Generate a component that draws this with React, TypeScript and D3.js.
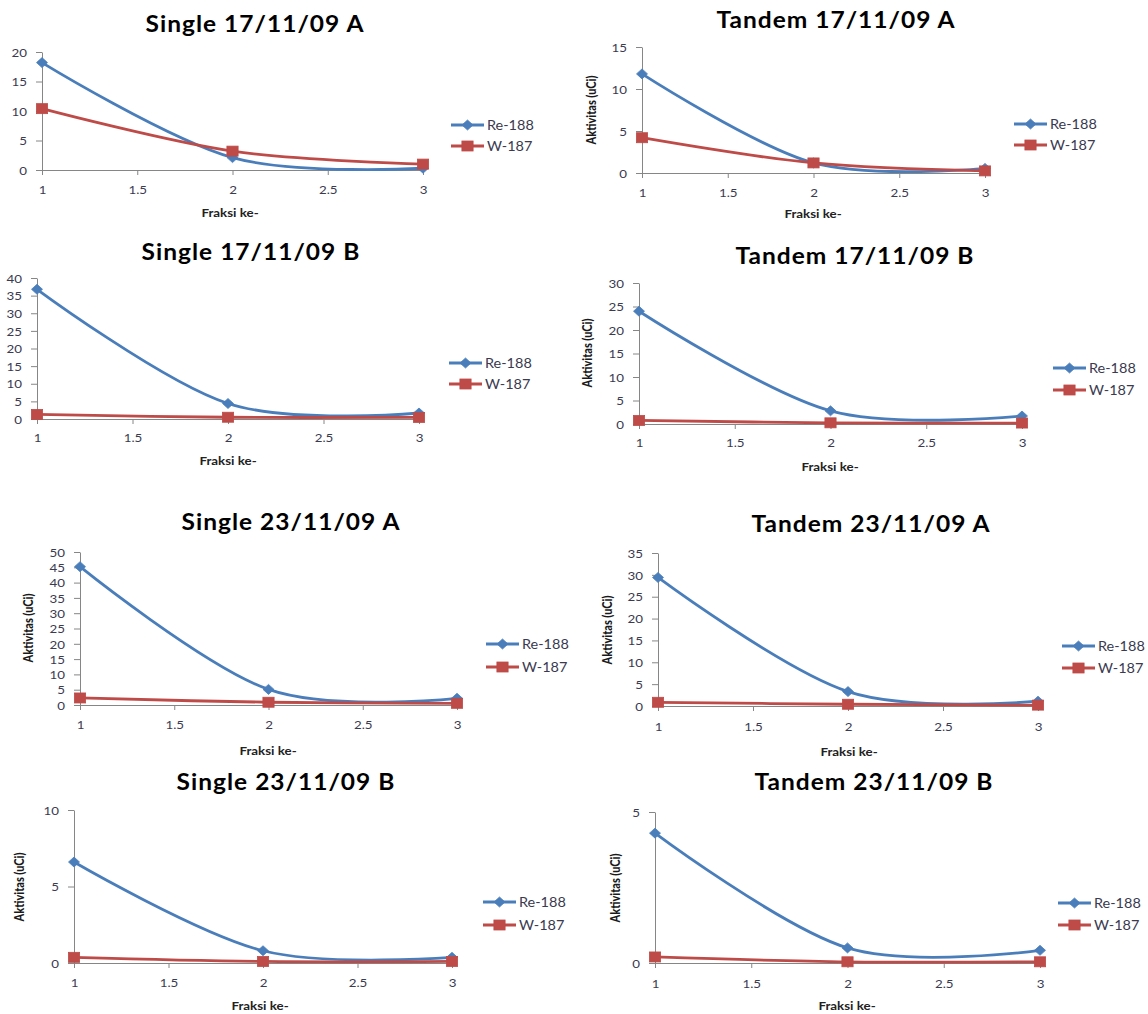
import { useEffect, useRef } from "react";
import * as d3 from "d3";

// the source picture is stretched sideways, so text and markers get this x scale
const SX = 1.115;

const fractions = [1, 2, 3];
const xTicks = [1, 1.5, 2, 2.5, 3];
const seriesNames = ["Re-188", "W-187"];
const seriesColors = ["#4a7ebb", "#be4b48"];
const xTitle = "Fraksi ke-";
const yTitle = "Aktivitas (uCi)";

const titles = [
  "Single 17/11/09 A",
  "Tandem 17/11/09 A",
  "Single 17/11/09 B",
  "Tandem 17/11/09 B",
  "Single 23/11/09 A",
  "Tandem 23/11/09 A",
  "Single 23/11/09 B",
  "Tandem 23/11/09 B",
];

const re188 = [
  [18.2, 2.1, 0.3],
  [11.8, 1.2, 0.55],
  [36.8, 4.4, 1.7],
  [24, 2.8, 1.7],
  [45.2, 5.1, 2.2],
  [29.4, 3.3, 1.1],
  [6.6, 0.8, 0.37],
  [4.3, 0.5, 0.42],
];

const w187 = [
  [10.4, 3.2, 1.0],
  [4.2, 1.2, 0.25],
  [1.3, 0.5, 0.45],
  [0.75, 0.25, 0.2],
  [2.3, 0.9, 0.55],
  [0.85, 0.4, 0.2],
  [0.37, 0.1, 0.1],
  [0.2, 0.04, 0.04],
];

const yMax = [20, 15, 40, 30, 50, 35, 10, 5];
const yStep = [5, 5, 5, 5, 5, 5, 5, 5];
const showYTitle = [false, true, false, true, true, true, true, true];

// where each small chart sits on the page
const boxes = [
  { x0: 42, x1: 423, yTop: 52, yBot: 170, titleX: 255, titleY: 24, tickY: 190, fraksiX: 230, fraksiY: 212, legTextX: 487, legY: [125, 146], yt: [0, 0] },
  { x0: 642, x1: 985, yTop: 47, yBot: 173, titleX: 836, titleY: 20, tickY: 193, fraksiX: 813, fraksiY: 213, legTextX: 1050, legY: [124, 145], yt: [591, 110] },
  { x0: 37, x1: 419, yTop: 278, yBot: 419, titleX: 251, titleY: 252, tickY: 438, fraksiX: 228, fraksiY: 460, legTextX: 485, legY: [363, 384], yt: [0, 0] },
  { x0: 639, x1: 1022, yTop: 283, yBot: 424, titleX: 855, titleY: 256, tickY: 443, fraksiX: 830, fraksiY: 466, legTextX: 1089, legY: [368, 390], yt: [587, 353] },
  { x0: 80, x1: 457, yTop: 552, yBot: 705, titleX: 291, titleY: 522, tickY: 725, fraksiX: 268, fraksiY: 750, legTextX: 522, legY: [644, 667], yt: [28, 628] },
  { x0: 658, x1: 1038, yTop: 553, yBot: 706, titleX: 871, titleY: 524, tickY: 727, fraksiX: 849, fraksiY: 751, legTextX: 1098, legY: [646, 668], yt: [607, 630] },
  { x0: 74, x1: 452, yTop: 810, yBot: 963, titleX: 286, titleY: 782, tickY: 983, fraksiX: 260, fraksiY: 1005, legTextX: 519, legY: [902, 925], yt: [19, 887] },
  { x0: 655, x1: 1040, yTop: 812, yBot: 963, titleX: 874, titleY: 782, tickY: 984, fraksiX: 847, fraksiY: 1005, legTextX: 1094, legY: [903, 925], yt: [615, 888] },
];

const FONT = "Lato, 'Open Sans', sans-serif";
const AXIS = "#868686";
const LABEL = "#3a3a50";

function marker(sel: any, kind: number, color: string) {
  if (kind === 0) {
    sel.append("path")
      .attr("d", "M0,-5 L5.5,0 L0,5 L-5.5,0 Z")
      .attr("fill", color)
      .attr("stroke", color)
      .attr("stroke-width", 0.8);
  } else {
    sel.append("rect")
      .attr("x", -5.6)
      .attr("y", -5)
      .attr("width", 11.2)
      .attr("height", 10)
      .attr("fill", color)
      .attr("stroke", color)
      .attr("stroke-width", 0.8);
  }
}

export default function App() {
  const svgRef = useRef<SVGSVGElement>(null);

  useEffect(() => {
    document.body.style.margin = "0";
    draw();
  }, []);

  function draw() {
    const svg = d3.select(svgRef.current);
    svg.selectAll("*").remove();

    boxes.forEach((b, i) => {
      const g = svg.append("g");
      const x = d3.scaleLinear().domain([1, 3]).range([b.x0, b.x1]);
      const y = d3.scaleLinear().domain([0, yMax[i]]).range([b.yBot, b.yTop]);
      const yTicks = d3.range(0, yMax[i] + 0.001, yStep[i]);

      // title
      g.append("text")
        .attr("transform", `translate(${b.titleX},${b.titleY}) scale(${SX},1)`)
        .attr("text-anchor", "middle")
        .attr("dominant-baseline", "central")
        .style("font-family", FONT)
        .style("font-weight", 700)
        .style("font-size", "22px")
        .style("letter-spacing", "0.9px")
        .attr("fill", "#000")
        .text(titles[i]);

      // y axis
      g.append("g")
        .attr("transform", `translate(${b.x0},0)`)
        .call(d3.axisLeft(y).tickValues(yTicks).tickSize(6).tickSizeOuter(0).tickFormat(d3.format("~g")))
        .call((a: any) => {
          a.attr("font-size", null).attr("font-family", null);
          a.select(".domain").attr("stroke", AXIS);
          a.selectAll(".tick line").attr("stroke", AXIS);
          a.selectAll(".tick text")
            .attr("x", null)
            .attr("dy", "0.35em")
            .attr("transform", `translate(-15,0) scale(${SX},1)`)
            .attr("fill", LABEL)
            .style("font-family", FONT)
            .style("font-size", "12px");
        });

      // x axis
      g.append("g")
        .attr("transform", `translate(0,${b.yBot})`)
        .call(d3.axisBottom(x).tickValues(xTicks).tickSize(5).tickSizeOuter(0).tickFormat(d3.format("~g")))
        .call((a: any) => {
          a.attr("font-size", null).attr("font-family", null);
          a.select(".domain").attr("stroke", AXIS);
          a.selectAll(".tick line").attr("stroke", AXIS);
          a.selectAll(".tick text")
            .attr("y", b.tickY - b.yBot)
            .attr("dy", "0.35em")
            .attr("transform", `scale(${SX},1)`)
            .attr("fill", LABEL)
            .style("font-family", FONT)
            .style("font-size", "12px");
        });

      // axis titles
      g.append("text")
        .attr("transform", `translate(${b.fraksiX},${b.fraksiY}) scale(${SX},1)`)
        .attr("text-anchor", "middle")
        .attr("dominant-baseline", "central")
        .style("font-family", FONT)
        .style("font-weight", 700)
        .style("font-size", "12px")
        .attr("fill", "#222")
        .text(xTitle);

      if (showYTitle[i]) {
        g.append("text")
          .attr("transform", `translate(${b.yt[0]},${b.yt[1]}) rotate(-90) scale(1,${SX})`)
          .attr("text-anchor", "middle")
          .attr("dominant-baseline", "central")
          .style("font-family", FONT)
          .style("font-weight", 900)
          .style("font-size", "11px")
          .attr("fill", "#1a1a1a")
          .text(yTitle);
      }

      // series
      const line = d3.line<number>()
        .x((_, j) => x(fractions[j]))
        .y((d) => y(d))
        .curve(d3.curveCardinal.tension(0));

      [re188[i], w187[i]].forEach((vals, s) => {
        g.append("path")
          .attr("d", line(vals))
          .attr("fill", "none")
          .attr("stroke", seriesColors[s])
          .attr("stroke-width", 2.8)
          .attr("stroke-linecap", "round");

        vals.forEach((v, j) => {
          const m = g.append("g")
            .attr("transform", `translate(${x(fractions[j])},${y(v)})`);
          marker(m, s, seriesColors[s]);
        });
      });

      // legend
      seriesNames.forEach((name, s) => {
        const ly = b.legY[s];
        g.append("line")
          .attr("x1", b.legTextX - 36)
          .attr("x2", b.legTextX - 3)
          .attr("y1", ly)
          .attr("y2", ly)
          .attr("stroke", seriesColors[s])
          .attr("stroke-width", 2.8);
        const m = g.append("g")
          .attr("transform", `translate(${b.legTextX - 19.5},${ly})`);
        marker(m, s, seriesColors[s]);
        g.append("text")
          .attr("transform", `translate(${b.legTextX},${ly}) scale(${SX},1)`)
          .attr("dominant-baseline", "central")
          .style("font-family", FONT)
          .style("font-size", "13px")
          .attr("fill", LABEL)
          .text(name);
      });
    });
  }

  return (
    <svg
      ref={svgRef}
      width={1148}
      height={1014}
      style={{ display: "block", background: "white" }}
    ></svg>
  );
}
